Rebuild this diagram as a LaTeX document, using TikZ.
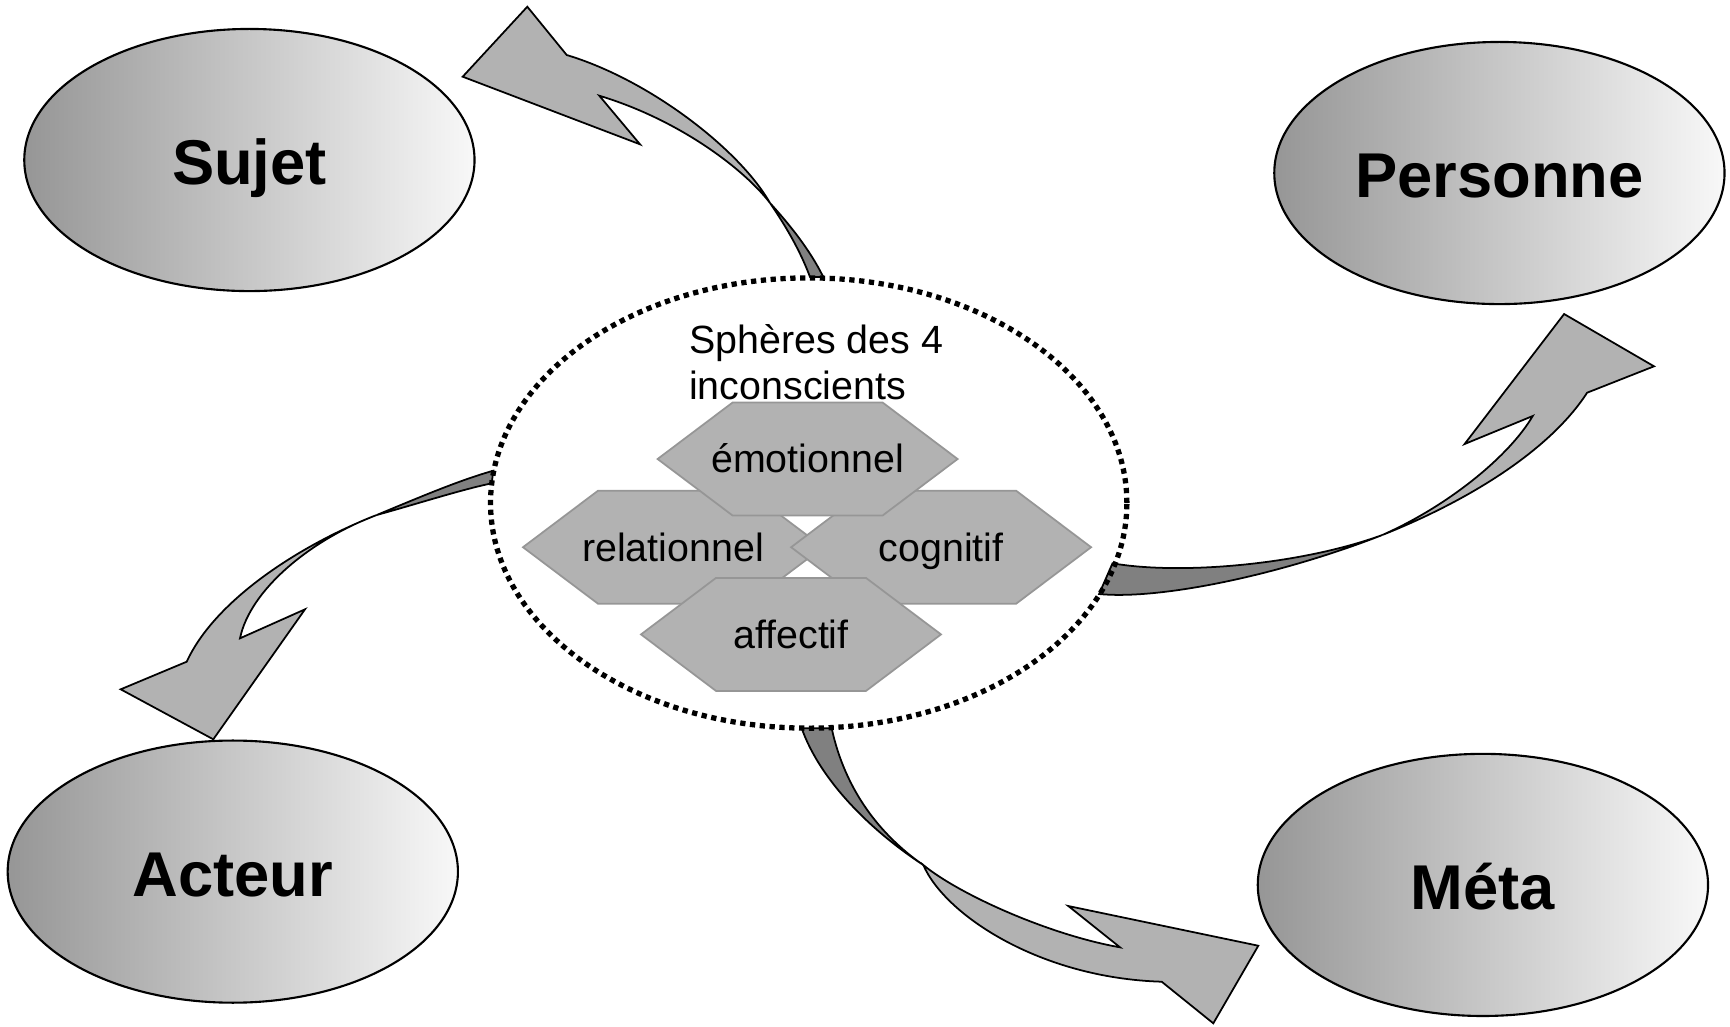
\documentclass[tikz,border=0pt]{standalone}
\usepackage{fontspec}
\setmainfont{Liberation Sans}
\usetikzlibrary{shapes.geometric}

\definecolor{ovaldark}{RGB}{150,150,150}
\definecolor{ovallight}{RGB}{248,248,248}
\definecolor{hexfill}{RGB}{178,178,178}
\definecolor{hexline}{RGB}{150,150,150}
\definecolor{bandlight}{RGB}{178,178,178}
\definecolor{banddark}{RGB}{128,128,128}

\tikzset{
  oval/.style={ellipse, draw, line width=0.6pt, left color=ovaldark, right color=ovallight,
    minimum width=4.5cm, minimum height=2.62cm, text height=14pt, text depth=0pt,
    font=\fontsize{18}{21}\selectfont\bfseries},
  titlelabel/.style={font=\fontsize{11.2}{13.1}\selectfont, inner sep=0pt},
  hexlabel/.style={font=\fontsize{11.2}{13.1}\selectfont, inner sep=0pt, text height=7.84pt, text depth=0pt},
  hexpath/.style={fill=hexfill, draw=hexline, line width=0.5pt},
  bandfront/.style={fill=bandlight, draw=black, line width=0.5pt},
  bandback/.style={fill=banddark, draw=black, line width=0.5pt},
}

% hexagone : nom, x, y, texte
\newcommand{\hexcell}[4]{%
  \filldraw[hexpath] (#2-150,#3) -- ++(75,-56.5) -- ++(150,0) -- ++(75,56.5)
    -- ++(-75,56.5) -- ++(-150,0) -- cycle;
  \node[hexlabel] (#1) at (#2,#3) {#4};}

\begin{document}
\begin{tikzpicture}[x=0.01cm, y=-0.01cm]
\useasboundingbox (0,0) rectangle (1730,1026);

% fleches
\filldraw[bandfront] (566.7,55) -- (527.3,6.7) -- (462.7,76.7) -- (640,144.3) -- (599.3,95.7)
  .. controls (680,120) and (745,170) .. (770,203) .. controls (740,150) and (650,80) .. (566.7,55) -- cycle;
\filldraw[bandback] (770,203) .. controls (785,225) and (800,250) .. (810,277) -- (823.3,277)
  .. controls (810,250) and (790,225) .. (770,203) -- cycle;

\filldraw[bandfront] (186.7,661.7) -- (120.7,689.3) -- (213.3,739.3) -- (305,609.3) -- (240,638.3)
  .. controls (250,590) and (310,540) .. (376.7,515) .. controls (300,545) and (215,600) .. (186.7,661.7) -- cycle;
\filldraw[bandback] (376.7,515) .. controls (420,497) and (460,480) .. (493.3,470.7) -- (491.7,483.3)
  .. controls (460,490) and (420,503) .. (376.7,515) -- cycle;

\filldraw[bandfront] (1587.1,392.7) -- (1654,366.3) -- (1564.1,314) -- (1464.6,444) -- (1532.7,416)
  .. controls (1510,455) and (1450,505) .. (1382.3,535) .. controls (1470,500) and (1550,450) .. (1587.1,392.7) -- cycle;
\filldraw[bandback] (1382.3,535) .. controls (1300,565) and (1180,575) .. (1112.5,563.3) -- (1099.1,594)
  .. controls (1160,600) and (1280,575) .. (1382.3,535) -- cycle;

\filldraw[bandfront] (1161.7,981.7) -- (1213.3,1023.3) -- (1258.3,945.7) -- (1068.3,906) -- (1120,947.3)
  .. controls (1050,935) and (960,895) .. (923.3,865) .. controls (945,915) and (1040,978) .. (1161.7,981.7) -- cycle;
\filldraw[bandback] (801.7,728.3) .. controls (820,780) and (870,830) .. (923.3,865)
  .. controls (880,835) and (845,790) .. (831.7,728.3) -- cycle;

% ovales
\node[oval] (sujet) at (249.4,160) {Sujet};
\node[oval] (personne) at (1499.4,173) {Personne};
\node[oval] (acteur) at (232.8,871.6) {Acteur};
\node[oval] (meta) at (1482.9,884.9) {Méta};

% spheres
\node[ellipse, draw, line width=1.5pt, dash pattern=on 1.5pt off 1.3pt,
  minimum width=6.36cm, minimum height=4.5cm] (spheres) at (808.7,503) {};
\node[titlelabel, anchor=base west, align=left] (titre) at (688.5,399.4) {Sphères des 4\\inconscients};

\hexcell{relat}{673}{547.2}{relationnel}
\hexcell{cogn}{941.1}{547.2}{cognitif}
\hexcell{emot}{807.6}{459}{émotionnel}
\hexcell{affec}{791}{634.4}{affectif}
\end{tikzpicture}
\end{document}
